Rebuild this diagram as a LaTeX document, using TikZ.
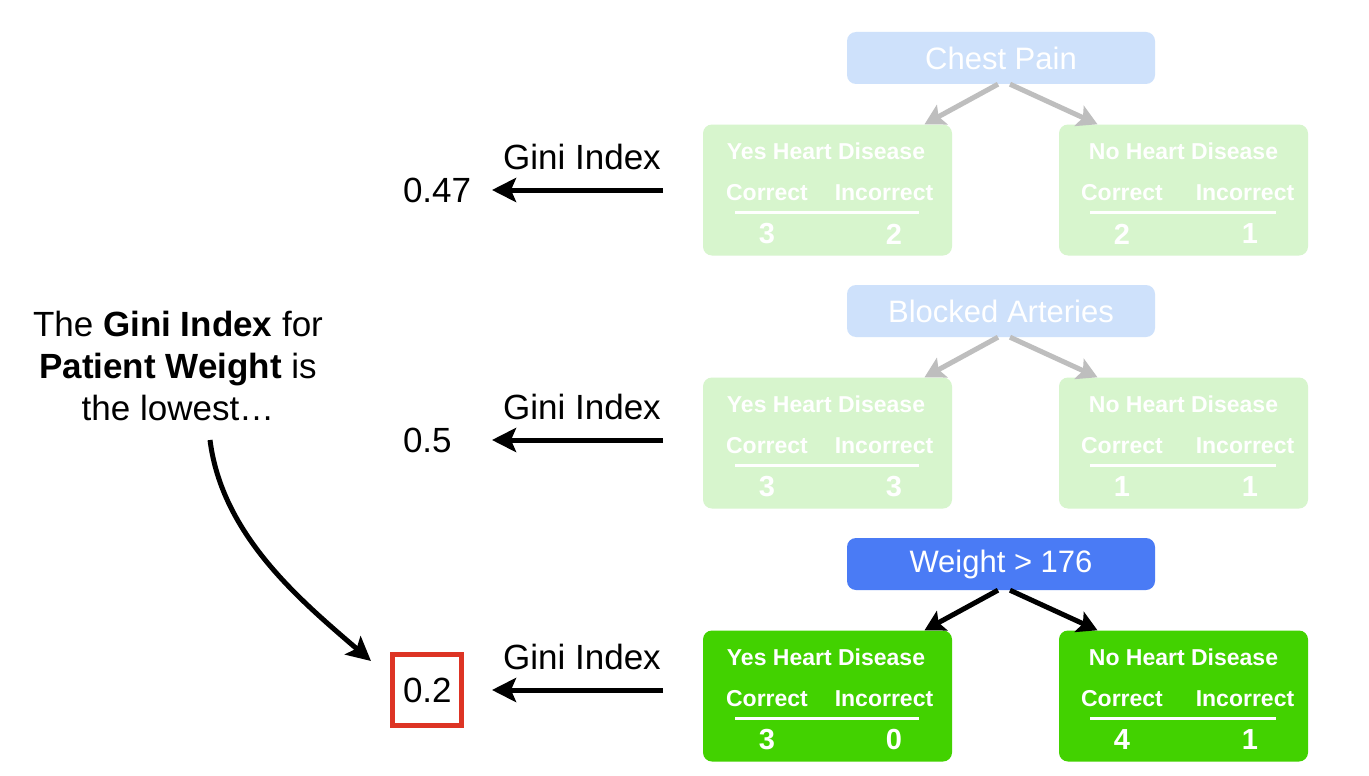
\documentclass[tikz,border=0pt]{standalone}
\usepackage{fontspec}
\setmainfont{Liberation Sans}
\usetikzlibrary{arrows.meta}
\definecolor{rootblue}{RGB}{74,123,245}
\definecolor{rootfaint}{RGB}{206,225,251}
\definecolor{leafgreen}{RGB}{66,210,0}
\definecolor{leaffaint}{RGB}{215,245,205}
\definecolor{branchfaint}{RGB}{190,190,190}
\definecolor{boxred}{RGB}{221,52,36}

\begin{document}
\begin{tikzpicture}[x=1pt,y=-1pt,
  rootbox/.style={rounded corners=9pt,minimum width=308pt,minimum height=52pt,text=white,font=\fontsize{31}{36}\selectfont},
  leafbox/.style={rounded corners=9pt,minimum width=249pt,minimum height=131pt},
  leaftext/.style={text=white,inner sep=0pt,font=\bfseries\fontsize{23}{26}\selectfont},
  leafnum/.style={leaftext,font=\bfseries\fontsize{29}{32}\selectfont},
  rule/.style={white,line width=3pt},
  branch/.style={line width=5pt,-{Stealth[length=20pt,width=22pt,inset=4pt]}},
  gini/.style={inner sep=0pt,font=\fontsize{35}{40}\selectfont},
  value/.style={anchor=text,inner sep=0pt,line width=5pt,minimum width=69pt,minimum height=71pt,font=\fontsize{35}{40}\selectfont},
  giniarrow/.style={line width=5pt,-{Stealth[length=24pt,width=24pt,inset=5pt]}},
  note/.style={anchor=base,inner sep=0pt,font=\fontsize{35}{42}\selectfont}]
  \useasboundingbox[fill=white] (0,0) rectangle (1369,776);
  % one row per split
  \foreach \r/\name/\val/\a/\b/\c/\d/\rc/\lc/\ac/\bc in {
    0/Chest Pain/0.47/3/2/2/1/rootfaint/leaffaint/branchfaint/none,
    1/Blocked Arteries/0.5/3/3/1/1/rootfaint/leaffaint/branchfaint/none,
    2/Weight > 176/0.2/3/0/4/1/rootblue/leafgreen/black/boxred}{
    \begin{scope}[shift={(0,253*\r)}]
      \node[rootbox,fill=\rc] (root\r) at (1001,58) {\name};
      \node[leafbox,fill=\lc] (yes\r) at (827.5,190) {};
      \node[leafbox,fill=\lc] (no\r) at (1183.5,190) {};
      \node[leaftext] (yestitle\r) at (826,151) {Yes Heart Disease};
      \node[leaftext] (yesok\r) at (767,193) {Correct};
      \node[leaftext] (yesbad\r) at (884,193) {Incorrect};
      \node[leafnum] (yesa\r) at (767,234) {\a};
      \node[leafnum] (yesb\r) at (894,234) {\b};
      \node[leaftext] (notitle\r) at (1183.5,151) {No Heart Disease};
      \node[leaftext] (nook\r) at (1122,193) {Correct};
      \node[leaftext] (nobad\r) at (1245,193) {Incorrect};
      \node[leafnum] (noa\r) at (1122,234) {\c};
      \node[leafnum] (nob\r) at (1250,234) {\d};
      \draw[rule] (735,212) -- (919,212) (1090,212) -- (1276,212);
      \draw[branch,draw=\ac,fill=\ac] ([xshift=-3pt]root\r.south) -- ([xshift=97pt]yes\r.north);
      \draw[branch,draw=\ac,fill=\ac] ([xshift=9pt]root\r.south) -- ([xshift=-86pt]no\r.north);
    \end{scope}
    \begin{scope}[shift={(0,250*\r)}]
      \node[gini] (gini\r) at (582,157) {Gini Index};
      \coordinate (from\r) at (663,190);
      \coordinate (to\r) at (492,190);
      \draw[giniarrow] (from\r) -- (to\r);
      \node[value,draw=\bc] (val\r) at (403,202) {\val};
    \end{scope}}
  \node[note] (note1) at (178,336) {The \textbf{Gini Index} for};
  \node[note] (note2) at (178,378) {\textbf{Patient Weight} is};
  \node[note] (note3) at (178,420) {the lowest\dots};
  \coordinate (curvefrom) at (210,440);
  \coordinate (curveto) at (371,661);
  \draw[giniarrow] (curvefrom) .. controls (222,535) and (300,600) .. (curveto);
\end{tikzpicture}
\end{document}
